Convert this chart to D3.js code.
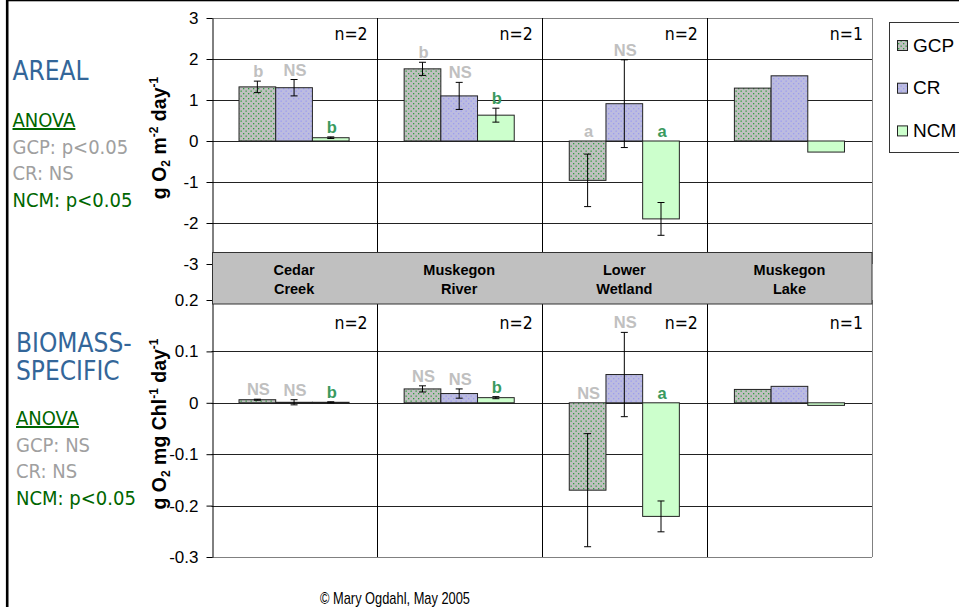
<!DOCTYPE html>
<html>
<head>
<meta charset="utf-8">
<script src="https://cdn.jsdelivr.net/npm/d3@7"></script>
<style>
  html, body { margin: 0; padding: 0; background: #fff; }
  svg { display: block; }
  .side { font-family: "DejaVu Sans Condensed", "DejaVu Sans", sans-serif; font-stretch: condensed; }
  .arial { font-family: "Liberation Sans", Arial, sans-serif; }
</style>
</head>
<body>
<svg id="chart" width="959" height="607"></svg>
<script>
// Sites along the x axis, with the two-line labels shown in the grey strip
const sites = ["Cedar Creek", "Muskegon River", "Lower Wetland", "Muskegon Lake"];
const siteLines = [["Cedar", "Creek"], ["Muskegon", "River"], ["Lower", "Wetland"], ["Muskegon", "Lake"]];
const seriesNames = ["GCP", "CR", "NCM"];
const sampleCounts = [2, 2, 2, 1];

// Areal metabolism, g O2 m-2 day-1 (mean and error per site)
const arealGCP = [1.32, 1.76, -0.96, 1.29];
const arealCR = [1.30, 1.10, 0.91, 1.59];
const arealNCM = [0.08, 0.63, -1.90, -0.27];
const arealErrGCP = [0.14, 0.16, 0.64, null];
const arealErrCR = [0.20, 0.33, 1.07, null];
const arealErrNCM = [0.02, 0.17, 0.40, null];
const arealSigGCP = ["b", "b", "a", ""];
const arealSigCR = ["NS", "NS", "NS", ""];
const arealSigNCM = ["b", "b", "a", ""];
const arealTicks = [3, 2, 1, 0, -1, -2, -3];

// Biomass-specific metabolism, g O2 mg Chl-1 day-1
const bioGCP = [0.006, 0.027, -0.170, 0.026];
const bioCR = [0.001, 0.018, 0.055, 0.032];
const bioNCM = [0.001, 0.010, -0.221, -0.005];
const bioErrGCP = [0.001, 0.006, 0.110, null];
const bioErrCR = [0.005, 0.009, 0.082, null];
const bioErrNCM = [0.001, 0.002, 0.030, null];
const bioSigGCP = ["NS", "NS", "NS", ""];
const bioSigCR = ["NS", "NS", "NS", ""];
const bioSigNCM = ["b", "b", "a", ""];
const bioTicks = [0.2, 0.1, 0, -0.1, -0.2, -0.3];

// ANOVA summaries printed to the left of each panel
const arealAnova = ["GCP: p<0.05", "CR: NS", "NCM: p<0.05"];
const bioAnova = ["GCP: NS", "CR: NS", "NCM: p<0.05"];

const svg = d3.select("#chart");

// Fill patterns: dotted grey (GCP), dotted lavender (CR), plain pale green (NCM)
const defs = svg.append("defs");
function dotPattern(id, bg, dot) {
  const p = defs.append("pattern").attr("id", id)
    .attr("width", 5).attr("height", 5).attr("patternUnits", "userSpaceOnUse");
  p.append("rect").attr("width", 5).attr("height", 5).attr("fill", bg);
  p.append("rect").attr("x", 0.5).attr("y", 0.5).attr("width", 1.3).attr("height", 1.3).attr("fill", dot);
  p.append("rect").attr("x", 3).attr("y", 3).attr("width", 1.3).attr("height", 1.3).attr("fill", dot);
}
dotPattern("pGCP", "#c0c0c0", "#2f9e3f");
dotPattern("pCR", "#bcbce0", "#9c9cf0");
const fills = { GCP: "url(#pGCP)", CR: "url(#pCR)", NCM: "#ccffcc" };
const sigColor = { GCP: "#c0c0c0", CR: "#c0c0c0", NCM: "#3a9a5e" };

// Outer frame
svg.append("rect").attr("x", 7.2).attr("y", 0).attr("width", 1100).attr("height", 800)
  .attr("fill", "none").attr("stroke", "#000").attr("stroke-width", 2.6);

const x0 = d3.scaleBand().domain(sites).range([211.5, 872]).padding(0);
const x1 = d3.scaleBand().domain(seriesNames).range([0, x0.bandwidth()]).paddingInner(0).paddingOuter(0.75);

function drawPanel(cfg) {
  const y = d3.scaleLinear().domain(cfg.domain).range(cfg.range);
  const g = svg.append("g");
  const [left, right] = x0.range();
  const top = y(cfg.domain[1]), bottom = y(cfg.domain[0]);

  g.append("rect").attr("x", left).attr("y", top).attr("width", right - left).attr("height", bottom - top)
    .attr("fill", "#fff");

  // horizontal gridlines
  g.selectAll("line.grid").data(cfg.ticks).join("line")
    .attr("x1", left).attr("x2", right)
    .attr("y1", d => Math.round(y(d)) + 0.5).attr("y2", d => Math.round(y(d)) + 0.5)
    .attr("stroke", (d, i) => (i === 0 || i === cfg.ticks.length - 1) ? "#808080" : "#222")
    .attr("stroke-width", 1);

  // site separators
  g.selectAll("line.sep").data(sites.slice(1)).join("line")
    .attr("x1", d => Math.round(x0(d)) + 0.5).attr("x2", d => Math.round(x0(d)) + 0.5)
    .attr("y1", top).attr("y2", bottom).attr("stroke", "#000");
  g.append("line").attr("x1", Math.round(right) + 0.5).attr("x2", Math.round(right) + 0.5)
    .attr("y1", top).attr("y2", bottom).attr("stroke", "#808080");

  const rows = [];
  sites.forEach((s, i) => seriesNames.forEach((k, j) => rows.push({
    site: s, key: k, v: cfg.values[j][i], e: cfg.errs[j][i], sig: cfg.sigs[j][i]
  })));

  // bars
  g.selectAll("rect.bar").data(rows).join("rect")
    .attr("x", d => x0(d.site) + x1(d.key))
    .attr("y", d => y(Math.max(0, d.v)))
    .attr("width", x1.bandwidth())
    .attr("height", d => Math.abs(y(d.v) - y(0)))
    .attr("fill", d => fills[d.key])
    .attr("stroke", "#222").attr("stroke-width", 1);

  // error bars
  const eb = g.selectAll("g.err").data(rows.filter(d => d.e != null)).join("g");
  const cx = d => x0(d.site) + x1(d.key) + x1.bandwidth() / 2;
  eb.append("line").attr("x1", cx).attr("x2", cx)
    .attr("y1", d => y(d.v + d.e)).attr("y2", d => y(d.v - d.e)).attr("stroke", "#000");
  [1, -1].forEach(sgn => eb.append("line")
    .attr("x1", d => cx(d) - 3.5).attr("x2", d => cx(d) + 3.5)
    .attr("y1", d => y(d.v + sgn * d.e)).attr("y2", d => y(d.v + sgn * d.e))
    .attr("stroke", "#000"));

  // significance letters
  g.selectAll("text.sig").data(rows.filter(d => d.sig)).join("text")
    .attr("class", "arial")
    .attr("x", d => cx(d) + 1)
    .attr("y", d => y(Math.max(0, d.v + (d.e || 0))) - 4)
    .attr("text-anchor", "middle")
    .attr("font-size", 16.5).attr("font-weight", "bold")
    .attr("fill", d => sigColor[d.key])
    .text(d => d.sig);

  // sample sizes
  g.selectAll("text.n").data(sites).join("text")
    .attr("class", "side")
    .attr("x", d => x0(d) + x0.bandwidth() - 9)
    .attr("y", cfg.nBaseline)
    .attr("text-anchor", "end").attr("font-size", 17.5).attr("fill", "#000")
    .text((d, i) => "n=" + sampleCounts[i]);

  // y axis
  const ax = g.append("g").attr("transform", `translate(${Math.round(left) + 0.5},0)`)
    .call(d3.axisLeft(y).tickValues(cfg.ticks).tickSizeInner(6).tickSizeOuter(0).tickPadding(8)
      .tickFormat(d => String(d)));
  ax.select(".domain").attr("stroke", "#000");
  ax.selectAll(".tick line").attr("stroke", "#000");
  ax.selectAll(".tick text").attr("class", "arial").attr("font-size", 17).attr("fill", "#000");

  // axis title
  const t = svg.append("text").attr("class", "arial")
    .attr("transform", `translate(166,${cfg.titleY}) rotate(-90)`)
    .attr("text-anchor", "middle").attr("font-size", 19.5).attr("font-weight", "bold");
  cfg.title.forEach(part => {
    const ts = t.append("tspan").text(part.s);
    if (part.sub) ts.attr("font-size", 12).attr("dy", 4);
    if (part.sup) ts.attr("font-size", 12).attr("dy", -8);
    if (part.reset) ts.attr("dy", part.reset);
  });
  return y;
}

drawPanel({
  domain: [-3, 3], range: [264, 18], ticks: arealTicks,
  values: [arealGCP, arealCR, arealNCM], errs: [arealErrGCP, arealErrCR, arealErrNCM],
  sigs: [arealSigGCP, arealSigCR, arealSigNCM], nBaseline: 39.5, titleY: 138,
  title: [{ s: "g O" }, { s: "2", sub: true }, { s: " m", reset: -4 }, { s: "-2", sup: true },
          { s: " day", reset: 8 }, { s: "-1", sup: true }]
});
drawPanel({
  domain: [-0.3, 0.2], range: [557, 300], ticks: bioTicks,
  values: [bioGCP, bioCR, bioNCM], errs: [bioErrGCP, bioErrCR, bioErrNCM],
  sigs: [bioSigGCP, bioSigCR, bioSigNCM], nBaseline: 328.5, titleY: 424,
  title: [{ s: "g O" }, { s: "2", sub: true }, { s: " mg Chl", reset: -4 }, { s: "-1", sup: true },
          { s: " day", reset: 8 }, { s: "-1", sup: true }]
});

// grey strip with site names between the two panels
svg.append("rect").attr("x", 212.5).attr("y", 252.5).attr("width", 659.5).attr("height", 51.5)
  .attr("fill", "#c0c0c0").attr("stroke", "#333");
sites.forEach((s, i) => {
  const t = svg.append("text").attr("class", "arial")
    .attr("text-anchor", "middle").attr("font-size", 14.5).attr("font-weight", "bold").attr("fill", "#000");
  siteLines[i].forEach((line, k) => t.append("tspan")
    .attr("x", x0(s) + x0.bandwidth() / 2).attr("y", 275 + k * 18.5).text(line));
});

// legend
const lg = svg.append("g");
lg.append("rect").attr("x", 889.5).attr("y", 22.5).attr("width", 120).attr("height", 130)
  .attr("fill", "#fff").attr("stroke", "#333");
seriesNames.forEach((k, i) => {
  lg.append("rect").attr("x", 897.5).attr("y", 40.5 + i * 42.7).attr("width", 10).attr("height", 10)
    .attr("fill", fills[k]).attr("stroke", "#222");
  lg.append("text").attr("class", "arial").attr("x", 913).attr("y", 51.5 + i * 42.7)
    .attr("font-size", 19).attr("fill", "#000").text(k);
});

// side annotations
function sideBlock(x, headLines, headBase, anovaBase, anovaLines) {
  headLines.forEach((h, i) => svg.append("text").attr("class", "side")
    .attr("x", x).attr("y", headBase + i * 28.5).attr("font-size", 26).attr("fill", "#336699").text(h));
  svg.append("text").attr("class", "side").attr("x", x).attr("y", anovaBase)
    .attr("font-size", 20).attr("fill", "#006600").attr("text-decoration", "underline").text("ANOVA");
  anovaLines.forEach((l, i) => svg.append("text").attr("class", "side")
    .attr("x", x).attr("y", anovaBase + 26.5 * (i + 1)).attr("font-size", 20)
    .attr("fill", i < 2 ? "#a0a0a0" : "#006600").text(l));
}
sideBlock(12.5, ["AREAL"], 80, 127, arealAnova);
sideBlock(16, ["BIOMASS-", "SPECIFIC"], 351.5, 425, bioAnova);

// credit line, set in a narrow width
svg.append("text").attr("x", 320).attr("y", 604)
  .attr("font-family", "'Liberation Sans', Arial, sans-serif")
  .attr("font-size", 17).attr("fill", "#000")
  .attr("textLength", 150).attr("lengthAdjust", "spacingAndGlyphs")
  .text("© Mary Ogdahl, May 2005");
</script>
</body>
</html>
